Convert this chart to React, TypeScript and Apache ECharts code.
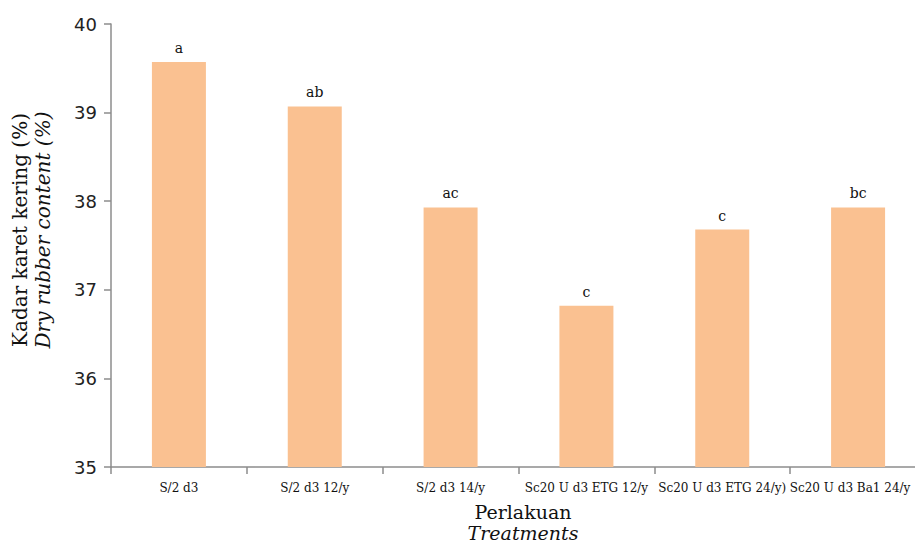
import React, { useEffect, useRef } from "react";
import * as echarts from "echarts";

const categories = ["S/2 d3", "S/2 d3 12/y", "S/2 d3 14/y", "Sc20 U d3 ETG 12/y", "Sc20 U d3 ETG 24/y)", "Sc20 U d3 Ba1 24/y"];
const values = [39.57, 39.07, 37.93, 36.82, 37.68, 37.93];
const letters = ["a", "ab", "ac", "c", "c", "bc"];
const yTicks = [35, 36, 37, 38, 39, 40];

export default function App() {
  const ref = useRef<HTMLDivElement>(null);
  useEffect(() => {
    if (!ref.current) return;
    const chart = echarts.init(ref.current, null, { renderer: "svg" });
    const catData = categories.map((c, i) =>
      i === categories.length - 1 ? { value: c, textStyle: { padding: [0, 16, 0, 0] } } : c
    );
    chart.setOption({
      animation: false,
      grid: { left: 111, top: 24, width: 815, height: 443, containLabel: false },
      xAxis: {
        type: "category",
        data: catData,
        axisLine: { lineStyle: { color: "#8c8c8c", width: 1.5 } },
        axisTick: { show: true, length: 7, lineStyle: { color: "#8c8c8c", width: 1.5 } },
        axisLabel: { fontFamily: "DejaVu Serif", fontSize: 12, color: "#111", margin: 15, interval: 0 },
      },
      yAxis: {
        type: "value",
        min: yTicks[0],
        max: yTicks[yTicks.length - 1],
        interval: 1,
        splitLine: { show: false },
        axisLine: { show: true, lineStyle: { color: "#8c8c8c", width: 1.5 } },
        axisTick: { show: true, length: 7, lineStyle: { color: "#8c8c8c", width: 1.5 } },
        axisLabel: { fontFamily: "DejaVu Sans", fontSize: 18, color: "#222", margin: 14 },
      },
      series: [
        {
          type: "bar",
          data: values,
          barWidth: 54,
          itemStyle: { color: "#FAC191" },
          label: {
            show: true,
            position: "top",
            distance: 7,
            fontFamily: "DejaVu Serif",
            fontSize: 14,
            color: "#111",
            formatter: (p: any) => letters[p.dataIndex],
          },
        },
      ],
      graphic: [
        {
          type: "text",
          x: 523,
          y: 512,
          style: { text: "Perlakuan", font: "19px 'DejaVu Serif'", fill: "#111", textAlign: "center", textVerticalAlign: "middle" },
        },
        {
          type: "text",
          x: 523,
          y: 533,
          style: { text: "Treatments", font: "italic 19px 'DejaVu Serif'", fill: "#111", textAlign: "center", textVerticalAlign: "middle" },
        },
        {
          type: "text",
          x: 20,
          y: 230,
          rotation: Math.PI / 2,
          style: { text: "Kadar karet kering (%)", font: "20px 'DejaVu Serif'", fill: "#111", textAlign: "center", textVerticalAlign: "middle" },
        },
        {
          type: "text",
          x: 43,
          y: 230,
          rotation: Math.PI / 2,
          style: { text: "Dry rubber content (%)", font: "italic 20px 'DejaVu Serif'", fill: "#111", textAlign: "center", textVerticalAlign: "middle" },
        },
      ],
    });
    return () => chart.dispose();
  }, []);
  return (
    <div style={{ width: 915, height: 544, position: "absolute", left: 0, top: 0, overflow: "hidden" }}>
      <div ref={ref} style={{ width: 940, height: 544 }} />
    </div>
  );
}
